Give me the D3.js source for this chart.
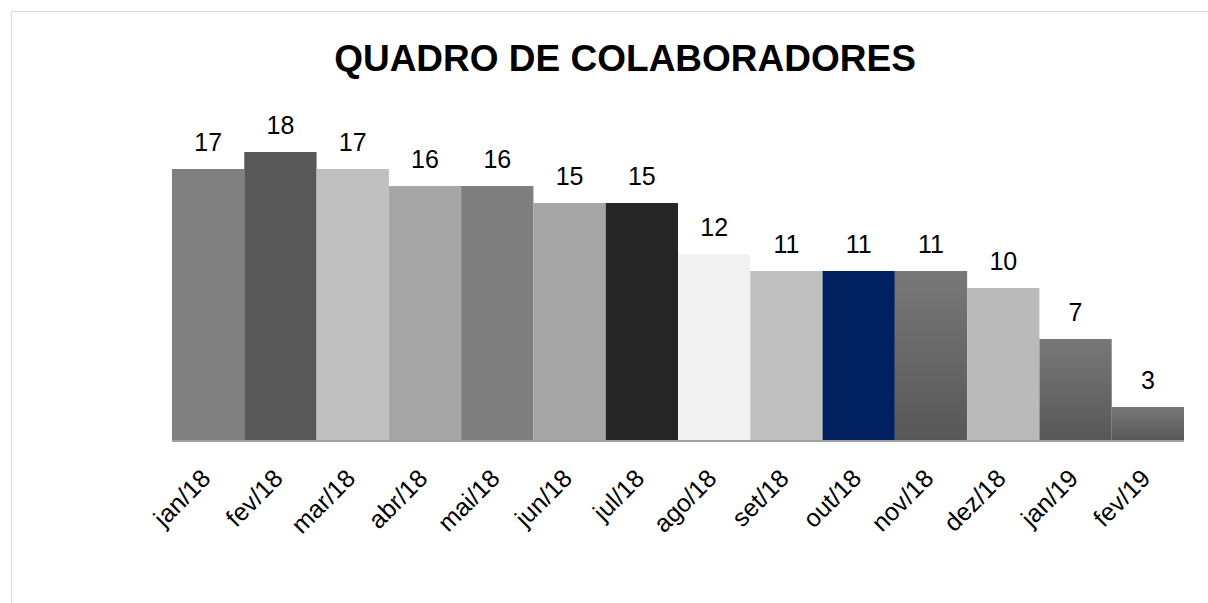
<!DOCTYPE html>
<html><head><meta charset="utf-8">
<script src="https://cdn.jsdelivr.net/npm/d3@7"></script>
<style>body{margin:0;background:#fff}svg{display:block}</style>
</head><body>
<script>
const categories = ["jan/18","fev/18","mar/18","abr/18","mai/18","jun/18","jul/18","ago/18","set/18","out/18","nov/18","dez/18","jan/19","fev/19"];
const values = [17,18,17,16,16,15,15,12,11,11,11,10,7,3];
const colors = ["#808080","#595959","#bfbfbf","#a6a6a6","#7f7f7f","#a6a6a6","#262626","#f2f2f2","#bfbfbf","#002060","grad","#bababa","grad","grad"];
const title = "QUADRO DE COLABORADORES";

const W = 1208, H = 603;
const svg = d3.select("body").append("svg").attr("width", W).attr("height", H);
const defs = svg.append("defs");
const g = defs.append("linearGradient").attr("id","gr").attr("x1",0).attr("y1",0).attr("x2",0).attr("y2",1);
g.append("stop").attr("offset","0%").attr("stop-color","#787878");
g.append("stop").attr("offset","100%").attr("stop-color","#575757");

svg.append("rect").attr("x",11.5).attr("y",11.5).attr("width",1400).attr("height",800)
  .attr("fill","#fff").attr("stroke","#d9d9d9").attr("stroke-width",1);

const x = d3.scaleBand().domain(categories).range([172,1184]).padding(0);
const y = d3.scaleLinear().domain([1,20]).range([441,118]);

svg.append("text").attr("x",625).attr("y",71).attr("text-anchor","middle")
  .style("font-family","Liberation Sans, Arial, sans-serif").style("font-weight","bold")
  .style("font-size","37px").attr("fill","#000").text(title);

svg.selectAll("rect.bar").data(values).enter().append("rect").attr("class","bar")
  .attr("x",(d,i)=>x(categories[i])).attr("width",x.bandwidth())
  .attr("y",d=>y(d)).attr("height",d=>y(1)-y(d))
  .attr("fill",(d,i)=>colors[i]==="grad"?"url(#gr)":colors[i]);

svg.selectAll("text.lbl").data(values).enter().append("text").attr("class","lbl")
  .attr("x",(d,i)=>x(categories[i])+x.bandwidth()/2).attr("y",d=>y(d)-18)
  .attr("text-anchor","middle").style("font-family","Liberation Sans, Arial, sans-serif")
  .style("font-size","25px").attr("fill","#000").text(d=>d);

const axis = d3.axisBottom(x).tickSize(0).tickPadding(0);
const ax = svg.append("g").attr("transform","translate(0,441)").call(axis);
ax.select(".domain").attr("stroke","#a0a0a0").attr("stroke-width",2).attr("d","M172,0H1184");
ax.selectAll(".tick text")
  .style("font-family","Liberation Sans, Arial, sans-serif").style("font-size","25px").attr("fill","#000")
  .attr("text-anchor","end").attr("dy",0).attr("y",0)
  .attr("transform","translate(4,39) rotate(-45)");
</script>
</body></html>
